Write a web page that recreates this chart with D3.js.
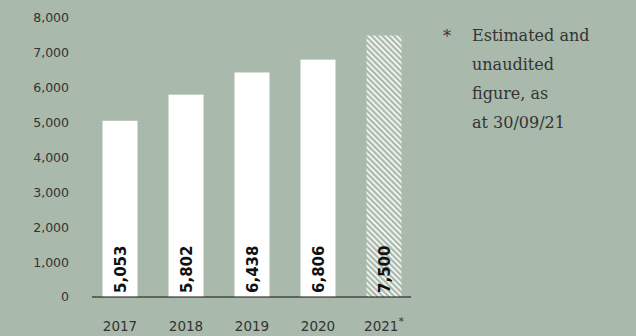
<!DOCTYPE html>
<html>
<head>
<meta charset="utf-8">
<script src="https://cdn.jsdelivr.net/npm/d3@7"></script>
<style>
  body { margin: 0; background: #a9b9ab; }
  svg { display: block; }
</style>
</head>
<body>
<div id="chart"></div>
<script>
// data
const years = ['2017', '2018', '2019', '2020', '2021'];
const values = [5053, 5802, 6438, 6806, 7500];
const estimated = [false, false, false, false, true];
const yTicks = [0, 1000, 2000, 3000, 4000, 5000, 6000, 7000, 8000];
const noteLines = ['Estimated and', 'unaudited', 'figure, as', 'at 30/09/21'];

const width = 636, height = 336;
const bg = '#a9b9ab', ink = '#333';

const svg = d3.select('#chart').append('svg')
    .attr('width', width)
    .attr('height', height);

svg.append('rect').attr('width', width).attr('height', height).attr('fill', bg);

// hatch for the estimated bar (lines running top-left to bottom-right)
const pat = svg.append('defs').append('pattern')
    .attr('id', 'hatch')
    .attr('patternUnits', 'userSpaceOnUse')
    .attr('width', 4).attr('height', 4)
    .attr('patternTransform', 'rotate(45)');
pat.append('rect').attr('width', 4).attr('height', 4).attr('fill', bg);
pat.append('rect').attr('width', 4).attr('height', 1.6).attr('fill', '#fff');

const x = d3.scaleBand().domain(years).range([87, 417])
    .paddingInner(0.47).paddingOuter(0.235);
const y = d3.scaleLinear().domain([0, 8000]).range([297, 18]);

// y tick labels (no axis line)
svg.append('g').selectAll('text')
    .data(yTicks)
    .enter().append('text')
    .attr('x', 69)
    .attr('y', (d) => y(d))
    .attr('dy', '0.35em')
    .attr('text-anchor', 'end')
    .attr('font-family', 'DejaVu Sans, sans-serif')
    .attr('font-size', 12.5)
    .attr('fill', ink)
    .text((d) => d3.format(',')(d));

// bars
svg.append('g').selectAll('rect')
    .data(values)
    .enter().append('rect')
    .attr('x', (d, i) => x(years[i]))
    .attr('y', (d) => y(d))
    .attr('width', x.bandwidth())
    .attr('height', (d) => y(0) - y(d))
    .attr('fill', (d, i) => estimated[i] ? 'url(#hatch)' : '#fff');

// baseline
svg.append('line')
    .attr('x1', 92).attr('x2', 411)
    .attr('y1', y(0)).attr('y2', y(0))
    .attr('stroke', '#111').attr('stroke-width', 1);

// value labels, rotated inside bars
svg.append('g').selectAll('text')
    .data(values)
    .enter().append('text')
    .attr('transform', (d, i) => 'translate(' + (x(years[i]) + x.bandwidth() / 2 + 5.5) + ',' + (y(0) - 4) + ') rotate(-90)')
    .attr('font-family', 'DejaVu Sans, sans-serif')
    .attr('font-weight', 'bold')
    .attr('font-size', 15)
    .attr('fill', '#111')
    .text((d) => d3.format(',')(d));

// year labels
const xl = svg.append('g').selectAll('text')
    .data(years)
    .enter().append('text')
    .attr('x', (d) => x(d) + x.bandwidth() / 2)
    .attr('y', 331)
    .attr('text-anchor', 'middle')
    .attr('font-family', 'DejaVu Sans, sans-serif')
    .attr('font-size', 13.5)
    .attr('fill', ink)
    .text((d) => d);
xl.filter((d, i) => estimated[i]).append('tspan')
    .attr('dy', -6).attr('font-size', 11).text('*');

// footnote
svg.append('text')
    .attr('x', 443).attr('y', 42)
    .attr('font-family', 'DejaVu Serif, serif')
    .attr('font-size', 16)
    .attr('fill', ink)
    .text('*');
svg.append('g').selectAll('text')
    .data(noteLines)
    .enter().append('text')
    .attr('x', 472)
    .attr('y', (d, i) => 41 + i * 29)
    .attr('font-family', 'DejaVu Serif, serif')
    .attr('font-size', 16)
    .attr('fill', ink)
    .text((d) => d);
</script>
</body>
</html>
